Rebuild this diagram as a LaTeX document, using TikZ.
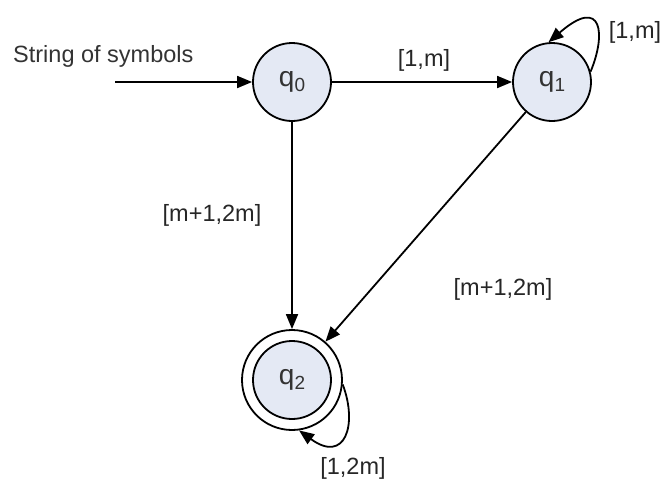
\documentclass[tikz,border=0pt]{standalone}
\usepackage{fontspec}
\setmainfont{Liberation Sans}
\usetikzlibrary{arrows.meta}
\definecolor{stfill}{HTML}{E4E9F4}
\newcommand{\qsub}[1]{q\raisebox{-0.3ex}{\fontsize{19}{20}\selectfont #1}}
\begin{document}
\begin{tikzpicture}[x=1pt,y=-1pt,
  state/.style={circle,draw,line width=1.8pt,fill=stfill,minimum size=78pt,inner sep=0pt,font=\fontsize{28}{30}\selectfont,text=black!80},
  edge/.style={line width=1.8pt,-{Triangle[length=15pt,width=12pt]}},
  lbl/.style={font=\fontsize{23.5}{26}\selectfont,inner sep=1pt,text=black!85}]
\useasboundingbox (0,0) rectangle (666,485);
\node[state] (q0) at (292,82) {\qsub{0}};
\node[state] (q1) at (552,82) {\qsub{1}};
\node[circle,draw,line width=1.8pt,minimum size=100pt,inner sep=0pt] (q2o) at (292,380) {};
\node[state] (q2) at (292,380) {\qsub{2}};
\coordinate (in) at (115,82);
\node[lbl,anchor=west,text=black!80] (str) at (12,56) {String of symbols};
\draw[edge] (in) -- (q0);
\draw[edge] (q0) -- (q1);
\node[lbl] (l01) at (424,60) {[1,m]};
\draw[edge] (q0) -- (q2o);
\node[lbl] (l02) at (212,215) {[m+1,2m]};
\draw[edge] (q1) -- (q2o);
\node[lbl] (l12) at (503,289) {[m+1,2m]};
\draw[edge] (q1.15) .. controls (606,35) and (603,-5) .. (q1.95);
\node[lbl] (l11) at (635,32) {[1,m]};
\draw[edge] (q2o.-5) .. controls (358,425) and (345,464) .. (q2o.-82);
\node[lbl] (l22) at (353,468) {[1,2m]};
\end{tikzpicture}
\end{document}
